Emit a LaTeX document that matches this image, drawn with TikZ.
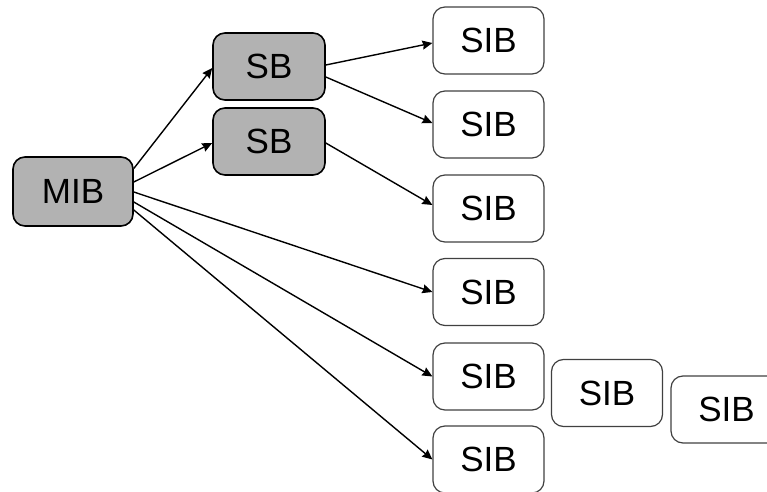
\documentclass[tikz,border=0pt]{standalone}
\usepackage{fontspec}
\setmainfont{Liberation Sans}
\usetikzlibrary{arrows.meta}
\definecolor{boxgrey}{RGB}{178,178,178}
\begin{document}
\begin{tikzpicture}[
            x=0.5pt, y=-0.5pt,
            every node/.style={draw, rounded corners=6pt, inner sep=0pt,
                font=\fontsize{17.5}{20}\selectfont},
            mainbox/.style={fill=boxgrey, line width=0.8pt, minimum width=60pt, minimum height=34.5pt},
            subbox/.style={fill=boxgrey, line width=0.8pt, minimum width=56pt, minimum height=33.5pt},
            leafbox/.style={draw=black!75, line width=0.6pt, minimum width=55.5pt, minimum height=33.5pt},
            link/.style={draw, line width=0.7pt, -{Stealth[length=5pt, width=4.5pt, inset=0.5pt]}}]

            \useasboundingbox (0,0) rectangle (767,492);
            \clip (0,0) rectangle (767,492);

            \node[mainbox] (mibnode) at (73,191.5) {MIB};

            \node[subbox] (sbnode1) at (269,66.5) {SB};
            \node[subbox] (sbnode2) at (269,141.5) {SB};

            \node[leafbox] (sibnode1) at (488.5,40.5) {SIB};
            \node[leafbox] (sibnode2) at (488.5,124.5) {SIB};
            \node[leafbox] (sibnode3) at (488.5,208.5) {SIB};
            \node[leafbox] (sibnode4) at (488.5,292) {SIB};
            \node[leafbox] (sibnode5) at (488.5,376.5) {SIB};
            \node[leafbox] (sibnode6) at (488.5,459.5) {SIB};
            \node[leafbox] (sibnode7) at (607,393) {SIB};
            \node[leafbox] (sibnode8) at (726.5,409.5) {SIB};

            % MIB to the two SBs
            \draw[link] ([yshift=11.5pt]mibnode.east) -- ([yshift=-0.75pt]sbnode1.west);
            \draw[link] ([yshift=4.75pt]mibnode.east) -- ([yshift=-0.75pt]sbnode2.west);

            % SBs to their SIBs
            \draw[link] ([yshift=0.75pt]sbnode1.east) -- ([yshift=-1.25pt]sibnode1.west);
            \draw[link] ([yshift=-5.25pt]sbnode1.east) -- ([yshift=0.75pt]sibnode2.west);
            \draw[link] ([yshift=-0.75pt]sbnode2.east) -- ([yshift=1.75pt]sibnode3.west);

            % MIB straight to the lower SIBs
            \foreach \i/\s in {4/-0.25, 5/-5.25, 6/-9.25}{
                \draw[link] ([yshift=\s pt]mibnode.east) -- (sibnode\i.west);
            }
        \end{tikzpicture}
\end{document}
